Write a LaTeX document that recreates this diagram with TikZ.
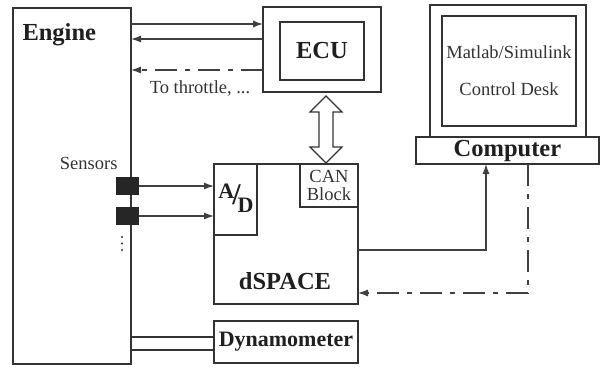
\documentclass[tikz,border=0pt]{standalone}
\usepackage{fontspec}
\setmainfont{Liberation Serif}
\usetikzlibrary{arrows.meta}

\tikzset{
  box/.style={draw=black!80, line width=1.2pt, inner sep=0pt, outer sep=0pt},
  bigtxt/.style={font=\fontsize{24.5}{26}\selectfont\bfseries, text=black!88},
  smalltxt/.style={font=\fontsize{18.5}{20}\selectfont, text=black!80},
  sig/.style={draw=black!75, line width=1.2pt, -{Latex[length=10pt,width=7pt]}},
  dashdot/.style={dash pattern=on 22pt off 8pt on 5pt off 8pt},
}

\begin{document}
\begin{tikzpicture}[x=1pt,y=-1pt]
    \useasboundingbox (0,0) rectangle (600,367);

    % 发动机与传感器
    \node[box, minimum width=118pt, minimum height=356pt] (engine) at (72,186) {};
    \node[bigtxt, anchor=west] (enginetxt) at (19,35) {Engine};
    \node[smalltxt, anchor=east] (sensortxt) at (121,163) {Sensors};
    \node[fill=black!85, inner sep=0pt, minimum width=23pt, minimum height=18pt] (s1) at (127.5,186) {};
    \node[fill=black!85, inner sep=0pt, minimum width=23pt, minimum height=18pt] (s2) at (127.5,216) {};
    \foreach \yy in {237,243.5,250}
        \fill[black!80] (122,\yy) circle (1.1pt);

    % ECU
    \node[box, minimum width=118pt, minimum height=85pt] (ecuouter) at (322,49.5) {};
    \node[box, bigtxt, minimum width=84pt, minimum height=58pt] (ecu) at (322,51) {ECU};

    % dSPACE
    \node[box, minimum width=144pt, minimum height=140pt] (dspace) at (286,234) {};
    \node[bigtxt] (dspacetxt) at (285,281) {dSPACE};
    \node[box, minimum width=43pt, minimum height=71pt] (ad) at (235.5,199.5) {};
    \node[font=\fontsize{22}{22}\selectfont\bfseries, text=black!88, inner sep=0pt] (adtxt) at (236,198)
        {\raisebox{6pt}{A}\kern-2pt{\fontsize{30}{30}\selectfont/}\kern-3pt\raisebox{-8pt}{D}};
    \node[box, smalltxt, align=center, font=\fontsize{18.5}{18}\selectfont,
          minimum width=58pt, minimum height=43pt] (can) at (329,185.5) {CAN\\Block};

    % 测功机
    \node[box, minimum width=144pt, minimum height=42pt,
          font=\fontsize{22}{24}\selectfont\bfseries, text=black!88] (dyno) at (286,342) {Dynamometer};

    % 计算机
    \node[box, minimum width=156pt, minimum height=132pt] (monitor) at (508,71) {};
    \node[box, minimum width=134pt, minimum height=110pt] (screen) at (509,71) {};
    \node[smalltxt] (matlab) at (509,52) {Matlab/Simulink};
    \node[smalltxt] (desk) at (509,89) {Control Desk};
    \node[box, bigtxt, minimum width=183pt, minimum height=27pt] (base) at (507.5,150.5) {Computer};

    % 发动机 <-> ECU
    \draw[sig] (engine.east |- 0,24) -- (ecuouter.west |- 0,24);
    \draw[sig] (ecuouter.west |- 0,39) -- (engine.east |- 0,39);
    \draw[sig, dashdot] (ecuouter.west |- 0,70) -- (engine.east |- 0,70);
    \node[smalltxt] (throttle) at (200,89) {To throttle, ...};

    % ECU <-> CAN
    \draw[draw=black!80, line width=1.2pt, fill=white]
        (326,96) -- (342,112) -- (333,112) -- (333,147) -- (342,147) -- (326,163)
        -- (310,147) -- (319,147) -- (319,112) -- (310,112) -- cycle;

    % 传感器 -> A/D
    \draw[sig] (s1.east) -- (ad.west |- s1.east);
    \draw[sig] (s2.east) -- (ad.west |- s2.east);

    % 发动机 -- 测功机
    \draw[draw=black!80, line width=1.2pt] (engine.east |- 0,337) -- (dyno.west |- 0,337);
    \draw[draw=black!80, line width=1.2pt] (engine.east |- 0,350) -- (dyno.west |- 0,350);

    % dSPACE <-> 计算机
    \draw[sig] (dspace.east |- 0,250) -| (486,0 |- base.south);
    \draw[sig, dashdot] (528,0 |- base.south) |- (dspace.east |- 0,293);

\end{tikzpicture}
\end{document}
